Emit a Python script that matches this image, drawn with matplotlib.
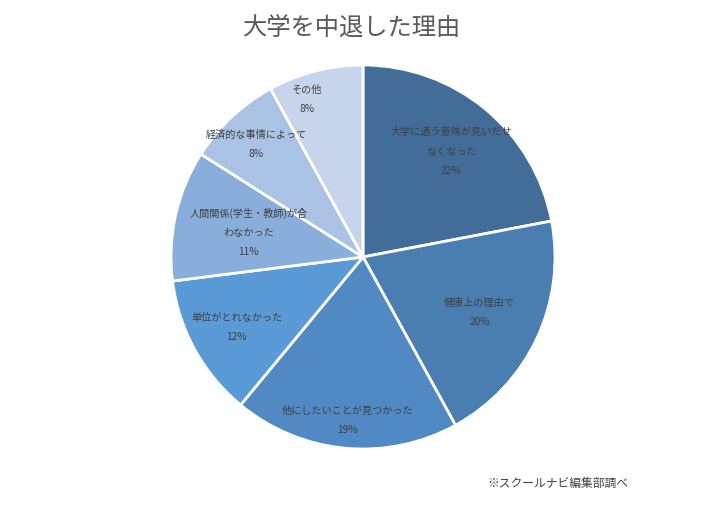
import matplotlib
matplotlib.use("Agg")
import matplotlib.pyplot as plt
import numpy as np

plt.rcParams['font.family'] = ['Noto Sans CJK JP', 'DejaVu Sans']

categories = ["大学に通う意味が見いだせ\nなくなった", "健康上の理由で", "他にしたいことが見つかった",
              "単位がとれなかった", "人間関係(学生・教師)が合\nわなかった", "経済的な事情によって", "その他"]
values = [22, 20, 19, 12, 11, 8, 8]
colors = ["#416D98", "#4A7EB1", "#5089C3", "#5A9AD6", "#89AEDC", "#AAC3E5", "#C6D5EB"]
label_r = [0.72, 0.67, 0.85, 0.75, 0.61, 0.81, 0.875]
label_dang = [0, 0, 0, 0, 0, 0, -5]

W, H = 705, 506
fig = plt.figure(figsize=(W/100, H/100), dpi=100)
cx, cy, R = 363, 258, 192
ax = fig.add_axes([(cx-R)/W, (H-cy-R)/H, 2*R/W, 2*R/H])
wedges, _ = ax.pie(values, colors=colors, startangle=90, counterclock=False, radius=1,
                   wedgeprops=dict(edgecolor='white', linewidth=2))
ax.set_xlim(-1, 1); ax.set_ylim(-1, 1)
ax.set_aspect('equal')
ax.axis('off')

for w, cat, v, r, da in zip(wedges, categories, values, label_r, label_dang):
    ang = np.deg2rad((w.theta1 + w.theta2) / 2 - da)
    x, y = r*np.cos(ang), r*np.sin(ang)
    ax.text(x, y, f"{cat}\n{v}%", ha='center', va='center', fontsize=7.3, color='#404040',
            linespacing=2.15)

fig.text(0.5, 1-28/H, "大学を中退した理由", ha='center', va='center', fontsize=17.5, color='#595959')
fig.text(487/W, 1-483/H, "※スクールナビ編集部調べ", ha='left', va='center', fontsize=8.5, color='#404040')

fig.savefig("out.png", dpi=100)
